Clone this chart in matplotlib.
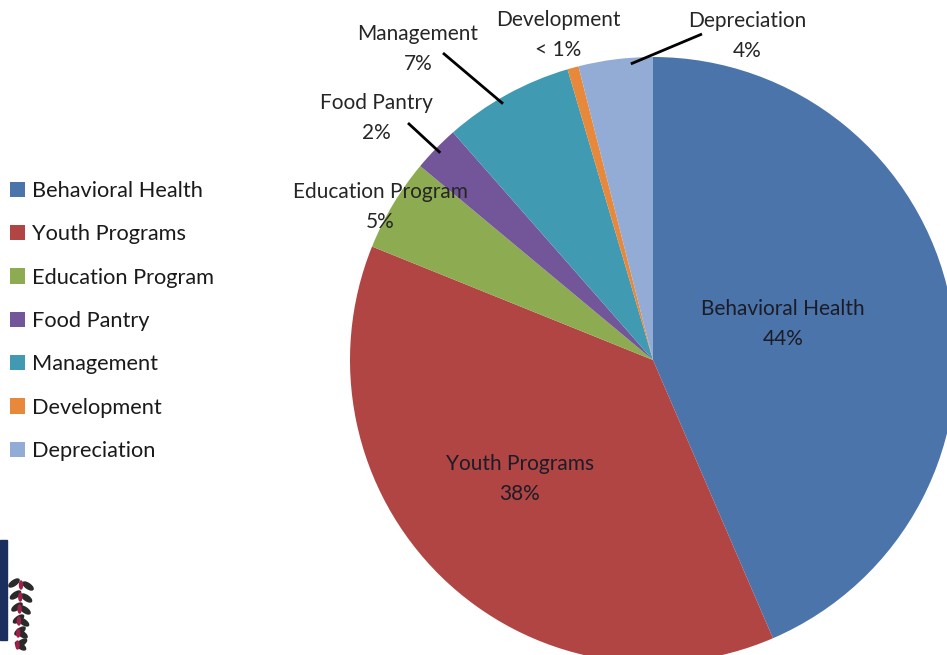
import matplotlib.pyplot as plt
import numpy as np
from matplotlib.patches import Rectangle, Ellipse

plt.rcParams['font.family'] = ['Lato', 'DejaVu Sans']

# data
categories = ['Behavioral Health', 'Youth Programs', 'Education Program',
              'Food Pantry', 'Management', 'Development', 'Depreciation']
shares = [44, 38, 5, 2.5, 7, 0.6, 4]
pct_labels = ['44%', '38%', '5%', '2%', '7%', '< 1%', '4%']
colors = ['#4A74AA', '#B04543', '#8DAB50', '#73569A', '#3F9AB2', '#E8883A', '#93ACD5']

W, H = 947, 655
fig = plt.figure(figsize=(W / 100, H / 100), dpi=100)
ax = fig.add_axes([0, 0, 1, 1])

# pie placed in pixel-like coordinates (y up)
cx, cy, r = 653, H - 360, 303
wedges, _ = ax.pie(shares, colors=colors, startangle=90, counterclock=False,
                   center=(cx, cy), radius=r, wedgeprops=dict(linewidth=0))
ax.set_xlim(0, W)
ax.set_ylim(0, H)
ax.set_aspect('equal')
ax.axis('off')

txt_col = '#262626'
lbl_fs = 15

# labels inside the two big slices
inside = {0: (783, 324), 1: (520, 479)}
for i, (x, y) in inside.items():
    ax.text(x, H - y, categories[i] + '\n' + pct_labels[i], ha='center', va='center',
            fontsize=lbl_fs, color='#1c1c28', linespacing=1.6)

# outside labels: text centre, leader line end (None = no line), where on the slice it touches
outside = {
    2: ((380, 207), None, 0.5),
    3: ((376, 118), (408, 123), 0.5),
    4: ((418, 49), (443, 53), 0.56),
    5: ((558, 35), None, 0.5),
    6: ((747, 36), (702, 34), 0.3),
}
for i, ((x, y), lend, frac) in outside.items():
    ax.text(x, H - y, categories[i] + '\n' + pct_labels[i], ha='center', va='center',
            fontsize=lbl_fs, color=txt_col, linespacing=1.6)
    if lend is not None:
        w = wedges[i]
        ang = np.deg2rad(w.theta1 + frac * (w.theta2 - w.theta1))
        px, py = cx + 0.98 * r * np.cos(ang), cy + 0.98 * r * np.sin(ang)
        ax.plot([px, lend[0]], [py, H - lend[1]], color='black', lw=2, solid_capstyle='butt')

# legend on the left
fig.legend(wedges, categories, loc='upper left', bbox_to_anchor=(10 / W, 1 - 181 / H),
           frameon=False, fontsize=15.7, handlelength=0.7, handleheight=0.7,
           handletextpad=0.3, labelspacing=1.07, borderpad=0, borderaxespad=0,
           labelcolor='#1a1a1a')

# bit of the cropped logo in the bottom left corner
ax.add_patch(Rectangle((0, H - 640), 7, 100, color='#1b2f5e'))
for k in range(6):
    yy = H - (583 + k * 12)
    ax.add_patch(Ellipse((14 + k * 1.5, yy), 12, 5, angle=35, color='#2a2a2a'))
    ax.add_patch(Ellipse((28 - k * 1.5, yy - 3), 12, 5, angle=-35, color='#2a2a2a'))
    ax.add_patch(Ellipse((21 - k * 0.7, yy - 2), 3, 8, color='#a0204a'))

fig.savefig('out.png', dpi=100)
